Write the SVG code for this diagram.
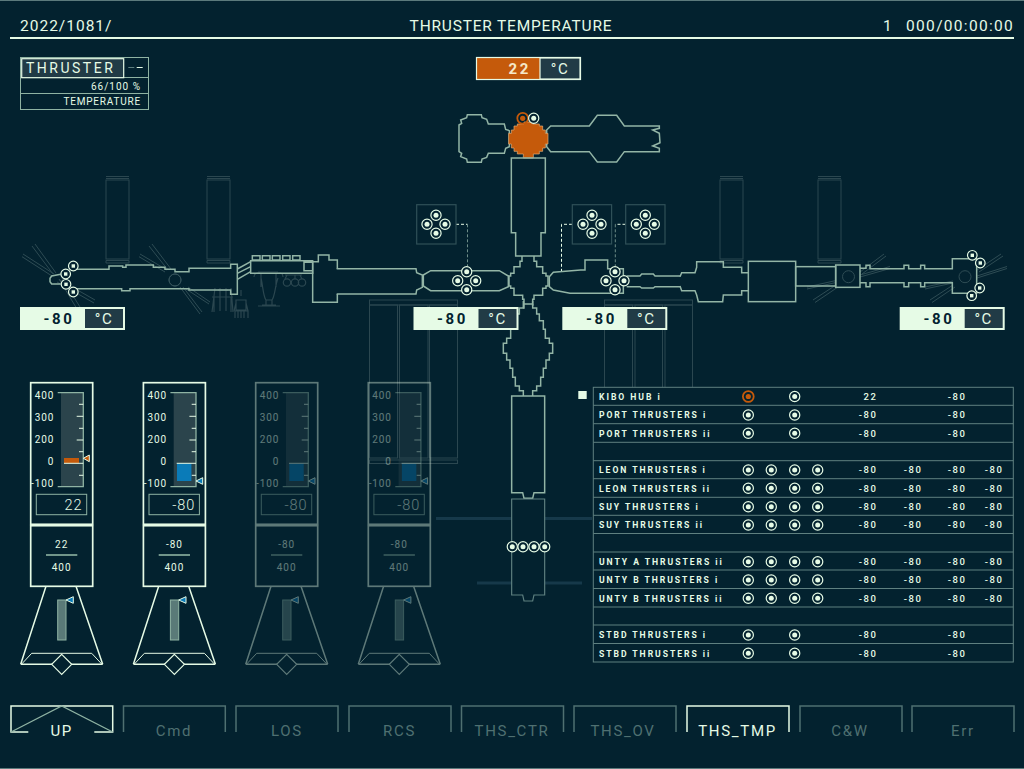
<svg xmlns="http://www.w3.org/2000/svg" width="1024" height="769" viewBox="0 0 1024 769">
<style>
text{font-family:Roboto,"Liberation Sans",sans-serif;fill:#e6fbe6}
.st{fill:none;stroke:#93b5a6;stroke-width:4.5;stroke-linejoin:miter}
.fa{fill:none;stroke:#2b4750;stroke-width:1}
.fa2{fill:none;stroke:#2e4c54;stroke-width:1}
.li{fill:none;stroke:#e6fbe6}
.gr{fill:none;stroke:#8fb3a3}
.dash{fill:none;stroke:#e6fbe6;stroke-dasharray:3 2}
.dashd{fill:none;stroke:#6d8d88;stroke-dasharray:3 2}
.lab{font-size:8.6px;font-weight:700;letter-spacing:1.95px}
.val{font-size:9.5px;font-weight:500;letter-spacing:1.6px;text-anchor:end}
.tab{font-size:15px;letter-spacing:1.7px;text-anchor:middle;fill:#4f7071}
.tl{fill:none;stroke:#4f7071;stroke-width:1.5}
.gl{font-size:10px;letter-spacing:.9px;text-anchor:end}
.bv{font-size:15px;font-weight:700;letter-spacing:2.6px;text-anchor:end;fill:#03222f}
.uc{font-size:15px;letter-spacing:1.5px;text-anchor:middle}
.big{font-size:14.5px;font-weight:300;letter-spacing:.9px;text-anchor:end}
.sm{font-size:10px;letter-spacing:1px;text-anchor:middle}
</style>
<defs>
<g id="c"><circle r="5.1" fill="#03222f" stroke="#e6fbe6" stroke-width="1.2"/><circle r="2.5" fill="#e6fbe6"/></g>
<g id="cs"><circle r="4.8" fill="#03222f" stroke="#e6fbe6" stroke-width="1.2"/><rect x="-1.7" y="-1.7" width="3.4" height="3.4" fill="#e6fbe6"/></g>
<g id="co"><circle r="5.4" fill="none" stroke="#c55a0b" stroke-width="1.8"/><circle r="2.6" fill="#c55a0b"/></g>
<g id="q"><use href="#c" x="0" y="-9"/><use href="#c" x="-9" y="0"/><use href="#c" x="9" y="0"/><use href="#c" x="0" y="9"/></g>
<g id="lb">
<rect x="0" y="0" width="105" height="23" fill="#e6fbe6"/>
<rect x="65" y="2" width="38" height="19" fill="#213b46"/>
<text class="uc" x="84" y="16.5">°C</text>
</g>
<g id="gauge">
<rect x="30.7" y="382.7" width="62" height="141.6" class="li" stroke-width="1.7"/>
<rect x="30.7" y="525.7" width="62" height="60.6" class="li" stroke-width="1.7"/>
<rect x="61" y="392.7" width="22.3" height="94" fill="#2b444c"/>
<path d="M57.7 392.7H83.3V486.7H57.7" class="gr" stroke-width="1.3"/>
<path d="M79 404.3H83.3M76.7 416.3H83.3M79 428.3H83.3M76.7 440H83.3M79 451.7H83.3M79 475.3H83.3" class="li" stroke-width="1"/>
<text class="gl" x="54.3" y="399.3">400</text><text class="gl" x="54.3" y="421.3">300</text><text class="gl" x="54.3" y="443.3">200</text><text class="gl" x="54.3" y="465.3">0</text><text class="gl" x="54.3" y="487.3">-100</text>
<rect x="36.3" y="494.3" width="50.4" height="20.4" class="gr" stroke-width="1"/>
<path d="M46 555H77.3" stroke="#8fb3a3" stroke-width="1.6"/>
<text class="sm" x="61.7" y="570.5">400</text>
<path d="M46 586.3L20.7 664.3M76 586.3L102.7 664.3M20.7 664.3H102.7" class="li" stroke-width="1.5"/>
<path d="M21.7 664L31.7 653.3H91.7L101.7 664" class="li" stroke-width="1"/>
<path d="M61.7 654.3L71.7 664.3L61.7 674.3L51.7 664.3Z" fill="#03222f" stroke="#e6fbe6" stroke-width="1.2"/>
<rect x="57.7" y="600" width="8.3" height="40" fill="#5a7a78" stroke="#8fb3a3" stroke-width="1"/>
<path d="M73.3 596.7V603.3L66 600Z" fill="#0a7bb8" stroke="#e6fbe6" stroke-width="1"/>
</g>
<g id="blue">
<rect x="64.3" y="463.3" width="14.4" height="17.7" fill="#0a7bb8"/>
<path d="M64 463.3H83.3" class="li" stroke-width="1"/>
<path d="M90 477.7V484.3L83.3 481Z" fill="#0a7bb8" stroke="#e6fbe6" stroke-width="1"/>
<text class="big" x="82.5" y="509.5">-80</text>
<text class="sm" x="61.7" y="548">-80</text>
</g>
</defs>
<rect width="1024" height="769" fill="#03222f"/>
<path d="M0 .5H1024M0 768.5H1024" stroke="#5c7a7c" stroke-width="1"/>

<g id="header">
<path d="M10 38H1014" stroke="#e6fbe6" stroke-width="2"/>
<text x="20" y="31" font-size="15.5" letter-spacing="1">2022/1081/</text>
<text x="511" y="31" font-size="15.5" letter-spacing=".8" text-anchor="middle">THRUSTER TEMPERATURE</text>
<text x="883" y="31" font-size="15.5">1</text>
<text x="1014" y="31" font-size="15.5" letter-spacing="1.3" text-anchor="end">000/00:00:00</text>
</g>

<g id="thruster-panel">
<rect x="20.5" y="57.5" width="128" height="52" class="gr" stroke-width="1"/>
<path d="M20.5 77.5H148.5M20.5 93.5H148.5" class="gr" stroke-width="1"/>
<rect x="21.7" y="58.7" width="102" height="19" fill="#213b46" stroke="#e6fbe6" stroke-width="1.2"/>
<text x="26" y="72.7" font-size="14" letter-spacing="2.5">THRUSTER</text>
<path d="M128.3 67.5H134.3" stroke="#5f8080" stroke-width="1"/><path d="M136.7 67.5H142.7" stroke="#e6fbe6" stroke-width="1"/>
<text x="141" y="89.5" font-size="10" letter-spacing="1" text-anchor="end">66/100 %</text>
<text x="141" y="105.3" font-size="10" letter-spacing=".8" text-anchor="end">TEMPERATURE</text>
</g>

<g id="faint-panels" class="fa">
<path d="M106 176.5H129M106 178.5H129M207 176.5H230M207 178.5H230M720 176.5H743M720 178.5H743M818 176.5H841M818 178.5H841"/>
<rect x="106" y="180" width="23" height="79"/><rect x="207" y="180" width="23" height="79"/>
<rect x="720" y="180" width="23" height="79"/><rect x="818" y="180" width="23" height="79"/>
<path d="M106 260.5H129V263H106ZM207 260.5H230V263H207ZM720 260.5H743V263H720ZM818 260.5H841V263H818Z"/>
<rect x="369.5" y="300" width="88" height="5"/>
<rect x="369.5" y="305" width="28" height="153"/><rect x="399.5" y="305" width="28.5" height="153"/><rect x="429.5" y="305" width="28" height="153"/>
<rect x="369.5" y="460" width="88" height="3.5"/>
<rect x="604.5" y="300" width="88" height="5"/>
<rect x="604.5" y="305" width="28" height="90"/><rect x="635" y="305" width="27.5" height="90"/><rect x="665" y="305" width="27.5" height="90"/>
<path d="M436 518.5H512M545 518.5H592M477 583H512M545 583H582" stroke="#16394a" stroke-width="3"/>
</g>

<g id="solar-wings" class="fa2">
<path d="M32 246L53 274M35 244L56 273M22 256.7L52 276M23 254L54 274M62 278L80 307M59 279L77 309M57 282L94 303M59 279.5L95 300"/>
<path d="M149 246L168 270M152 244L171 269M139 256.7L165 272M140 254L167 270M180 287L200 314M183 287L202 312M188 287L210 302M186 289L209 304"/>
<circle cx="175" cy="280" r="6"/>
<path d="M813 300L836 285M815 302.5L838 287M807 287L836 280.5M807 289L836 282.5M860 272L884 254M862 274L886 256M860 275L890 266.5M860 277L890 268.5"/>
<circle cx="848.5" cy="276.7" r="6"/>
<path d="M930 300L953 285M932 302.5L955 287M925 287L953 281M925 289L953 283M977 270L1001 254M979 272L1003 256M977 276L1007 266.5M977 278L1007 268.5"/>
<circle cx="965" cy="276.7" r="6"/>
</g>

<g id="robots" fill="none" stroke="#2b4750" stroke-width="1.2">
<path d="M215 288L212 312M220 288V311M226 288V311M231 288L233 312M212 297H233M218 290H228M214 297V312M231 297V312"/>
<path d="M241 290V296M236 300H246V310H236ZM236 303L234 311M246 303L248 311M235 318V311H248V318M238 318V311M241 318V311M244 318V311"/>
<path d="M258 272H278M254 277C254 273 258 272 261 274V287M283 277C283 273 280 272 276 274V287M261 278C263 286 263 296 266 300M278 278C275 286 275 296 272 300M262 305H276M258 306H280M266 300H272V305H266Z"/>
<circle cx="287" cy="282.5" r="3.7"/><circle cx="295" cy="282.5" r="3.7"/><circle cx="302" cy="282.5" r="3.7"/>
<path d="M285 279L287 275M295 279V275M302 279L300 275M285 275H302"/>
</g>

<g id="connectors">
<path class="dash" d="M456 224.3H467.5"/>
<path class="dashd" d="M467.5 224.3V267"/>
<path class="dash" d="M572 224.3H561.5V272"/>
<path class="dash" d="M625.5 224.3H615.3"/>
<path class="dashd" d="M615.3 224.3V267"/>
</g>

<g id="station" transform="translate(340 40) scale(.33333)">
<path id="kibo-left" class="st" d="M357 255L365 250L362 240L380 233L382 224H424L426 233L440 238L445 252H493L497 268L508 272V320L497 325L493 340H445L440 352L426 357L424 367H382L380 357L362 350L365 340L357 335Z"/>
<path id="kibo-right" class="st" d="M620 270L632 258H748L772 226H830L853 258H958V265L938 270L958 280L960 308L938 318L958 325V335H853L830 366H772L748 335H632L620 320Z"/>
<path id="kibo-hub" fill="#c55a0b" stroke="#e8b27a" stroke-width="2" d="M552 246H578V252H598V258H608V270H616V280H624V312H616V324H608V334H598V342H580V354H550V342H532V334H522V324H514V312H506V280H514V270H522V258H532V252H552Z"/>
<path id="node2" class="st" d="M514 354H616V578H603V648H527V578H514Z"/>
<path id="centre" class="st" d="M546 648V664H540V680H522V700H512V708H507V738H512V745H522V766H548V778H552V792H578V778H582V766H608V745H618V738H624V708H618V700H608V680H590V664H582V648"/>
<path id="leon" class="st" d="M-10 686H228L230 698L247 705V742L230 750L228 762H-10"/>
<path id="port" class="st" d="M250 705L272 692H478L505 708V740L478 752H272L250 738Z"/>
<path id="starboard" class="st" d="M628 710L640 697L722 690H735V660H803V686H850V760H690L640 750L628 740Z"/>
<path class="st" d="M860 708H900L905 702H940L945 708H1020M860 740H900L905 744H940L945 740H1020"/>
<path class="st" d="M552 792V806M578 792V798"/>
</g>

<g id="station-lower" transform="translate(240 300) scale(.33333)">
<path class="st" d="M850 3V24H838V42H830V62H818V88H812V115H800V130H790V160H800V180H810V205H818V232H826V258H838V272H850V288M878 3V24H890V42H898V62H910V88H916V115H928V130H938V160H928V180H918V205H910V232H902V258H890V272H878V288"/>
<path class="st" d="M815 288H914V578H882L878 595H852L848 578H815Z"/>
<path fill="none" stroke="#5f8080" stroke-width="3.5" d="M815 597H914V885H882L878 903H852L848 885H815Z"/>
</g>

<g id="station-left" transform="scale(.33333)">
<path class="st" d="M220 808H327V798H368V802H378V795H460V802H495V808H525V815H567V805H692V793H712V883H692V870H567V866H390V872H365V866H230M182 823L155 828L150 835V845L155 852L182 852"/>
<circle cx="525" cy="840" r="18" fill="none" stroke="#34525a" stroke-width="3"/>
<path class="st" d="M712 807L752 785M712 820L752 800M712 838L752 815"/>
<path class="st" d="M752 782H938V820H752ZM912 787H938V812H912ZM757 767H780V780H757ZM787 767H810V780H787ZM817 767H840V780H817ZM848 767H870V780H848ZM878 767H900V780H878Z"/>
<path class="st" d="M1012 882V907H938V785H955V765H987V780H1012V806"/>
</g>

<g id="station-right" transform="translate(680 160) scale(.33333)">
<path class="st" d="M0 350L5 338H45L50 322V305H130V322H185V338H205M0 378L5 392H45L50 405L55 425H128L130 405H185V392H205"/>
<rect class="st" x="205" y="304" width="142" height="121"/>
<rect class="st" x="347" y="320" width="120" height="58"/>
<rect class="st" x="467" y="315" width="73" height="67"/>
<path class="st" d="M540 325H558V316H570V326H672V316H686V326H722V316H734V326H817V296H890V400H817V368H734V380H722V368H686V380H672V368H570V380H558V368H540"/>
</g>

<g id="box-a"><rect x="416.7" y="204.7" width="39.3" height="39.3" fill="none" stroke="#2f5058" stroke-width="1.2"/><use href="#q" x="436" y="224.3"/></g>
<g id="box-b"><rect x="572.3" y="204.7" width="39.3" height="39.3" fill="none" stroke="#2f5058" stroke-width="1.2"/><use href="#q" x="592" y="224.3"/></g>
<g id="box-c"><rect x="625.7" y="204.7" width="39.3" height="39.3" fill="none" stroke="#2f5058" stroke-width="1.2"/><use href="#q" x="645.3" y="224.3"/></g>
<g id="cluster-port"><use href="#q" x="466.7" y="280.7"/></g>
<g id="cluster-stbd"><use href="#q" x="615" y="280.7"/></g>
<g id="cluster-hub"><use href="#co" x="522.7" y="118.3"/><use href="#c" x="533.7" y="118.3"/></g>
<g id="cluster-node"><use href="#c" x="512.3" y="546.7"/><use href="#c" x="523" y="546.7"/><use href="#c" x="534" y="546.7"/><use href="#c" x="544.7" y="546.7"/></g>
<g id="cluster-left"><use href="#cs" x="73.3" y="266"/><use href="#cs" x="65.7" y="274"/><use href="#cs" x="66" y="284.3"/><use href="#cs" x="73.3" y="292"/></g>
<g id="cluster-right"><use href="#cs" x="972.3" y="255.3"/><use href="#cs" x="980.3" y="263"/><use href="#cs" x="979.7" y="288"/><use href="#cs" x="971.7" y="295.7"/></g>

<g id="label-top">
<rect x="476.5" y="57.5" width="104" height="22" fill="#c55a0b" stroke="#e6fbe6" stroke-width="1.2"/>
<rect x="540" y="58" width="40" height="21" fill="#213b46" stroke="#e6fbe6" stroke-width="1.2"/>
<text class="bv" x="531" y="73.5" style="fill:#f5e8c8">22</text>
<text class="uc" x="560" y="73.5">°C</text>
</g>
<g id="label-left"><use href="#lb" x="20" y="307"/><text class="bv" x="74.5" y="323.5">-80</text></g>
<g id="label-port"><use href="#lb" x="413.5" y="307"/><text class="bv" x="468" y="323.5">-80</text></g>
<g id="label-stbd"><use href="#lb" x="562.3" y="307"/><text class="bv" x="617" y="323.5">-80</text></g>
<g id="label-right"><use href="#lb" x="899.7" y="307"/><text class="bv" x="954.5" y="323.5">-80</text></g>

<g id="gauge-1"><use href="#gauge"/>
<rect x="64" y="458" width="15" height="5.3" fill="#c55a0b"/>
<path d="M64 463.3H83.3" class="li" stroke-width="1"/>
<path d="M89.3 455V461.7L83.3 458.3Z" fill="#c55a0b" stroke="#e6fbe6" stroke-width="1"/>
<text class="big" x="82.5" y="509.5">22</text>
<text class="sm" x="61.7" y="548">22</text>
</g>
<g id="gauge-2" transform="translate(112.7 0)"><use href="#gauge"/><use href="#blue"/></g>
<g id="gauge-3" transform="translate(225 0)" opacity=".4"><use href="#gauge"/><use href="#blue"/></g>
<g id="gauge-4" transform="translate(337.6 0)" opacity=".4"><use href="#gauge"/><use href="#blue"/></g>

<g id="table">
<rect x="578.3" y="391" width="8.4" height="8" fill="#e6fbe6"/>
<rect x="593.3" y="387.3" width="420" height="274.7" fill="#03222f" stroke="#5f8080" stroke-width="1"/>
<path d="M593.3 405.3H1013.3M593.3 423.7H1013.3M593.3 442.3H1013.3M593.3 460.7H1013.3M593.3 478.7H1013.3M593.3 497.3H1013.3M593.3 515.3H1013.3M593.3 533.5H1013.3M593.3 552H1013.3M593.3 570H1013.3M593.3 588.5H1013.3M593.3 607H1013.3M593.3 625H1013.3M593.3 643.5H1013.3" stroke="#5f8080" stroke-width="1"/>
<g id="r0"><text class="lab" x="599" y="400">KIBO HUB i</text><use href="#co" x="748.3" y="396.5"/><use href="#c" x="794.7" y="396.5"/><text class="val" x="877.5" y="400">22</text><text class="val" x="966.5" y="400">-80</text></g>
<g id="r1"><text class="lab" x="599" y="418.3">PORT THRUSTERS i</text><use href="#c" x="748.3" y="415"/><use href="#c" x="794.7" y="415"/><text class="val" x="877.5" y="418.3">-80</text><text class="val" x="966.5" y="418.3">-80</text></g>
<g id="r2"><text class="lab" x="599" y="436.5">PORT THRUSTERS ii</text><use href="#c" x="748.3" y="433.3"/><use href="#c" x="794.7" y="433.3"/><text class="val" x="877.5" y="436.5">-80</text><text class="val" x="966.5" y="436.5">-80</text></g>
<g id="r4"><text class="lab" x="599" y="473.3">LEON THRUSTERS i</text><use href="#c" x="748.3" y="470"/><use href="#c" x="771.3" y="470"/><use href="#c" x="794.7" y="470"/><use href="#c" x="817.7" y="470"/><text class="val" x="877.5" y="473.3">-80</text><text class="val" x="922.5" y="473.3">-80</text><text class="val" x="966.5" y="473.3">-80</text><text class="val" x="1003.5" y="473.3">-80</text></g>
<g id="r5"><text class="lab" x="599" y="491.5">LEON THRUSTERS ii</text><use href="#c" x="748.3" y="488.3"/><use href="#c" x="771.3" y="488.3"/><use href="#c" x="794.7" y="488.3"/><use href="#c" x="817.7" y="488.3"/><text class="val" x="877.5" y="491.5">-80</text><text class="val" x="922.5" y="491.5">-80</text><text class="val" x="966.5" y="491.5">-80</text><text class="val" x="1003.5" y="491.5">-80</text></g>
<g id="r6"><text class="lab" x="599" y="510">SUY THRUSTERS i</text><use href="#c" x="748.3" y="506.7"/><use href="#c" x="771.3" y="506.7"/><use href="#c" x="794.7" y="506.7"/><use href="#c" x="817.7" y="506.7"/><text class="val" x="877.5" y="510">-80</text><text class="val" x="922.5" y="510">-80</text><text class="val" x="966.5" y="510">-80</text><text class="val" x="1003.5" y="510">-80</text></g>
<g id="r7"><text class="lab" x="599" y="528">SUY THRUSTERS ii</text><use href="#c" x="748.3" y="525"/><use href="#c" x="771.3" y="525"/><use href="#c" x="794.7" y="525"/><use href="#c" x="817.7" y="525"/><text class="val" x="877.5" y="528">-80</text><text class="val" x="922.5" y="528">-80</text><text class="val" x="966.5" y="528">-80</text><text class="val" x="1003.5" y="528">-80</text></g>
<g id="r9"><text class="lab" x="599" y="565">UNTY A THRUSTERS ii</text><use href="#c" x="748.3" y="561.7"/><use href="#c" x="771.3" y="561.7"/><use href="#c" x="794.7" y="561.7"/><use href="#c" x="817.7" y="561.7"/><text class="val" x="877.5" y="565">-80</text><text class="val" x="922.5" y="565">-80</text><text class="val" x="966.5" y="565">-80</text><text class="val" x="1003.5" y="565">-80</text></g>
<g id="r10"><text class="lab" x="599" y="583.3">UNTY B THRUSTERS i</text><use href="#c" x="748.3" y="580"/><use href="#c" x="771.3" y="580"/><use href="#c" x="794.7" y="580"/><use href="#c" x="817.7" y="580"/><text class="val" x="877.5" y="583.3">-80</text><text class="val" x="922.5" y="583.3">-80</text><text class="val" x="966.5" y="583.3">-80</text><text class="val" x="1003.5" y="583.3">-80</text></g>
<g id="r11"><text class="lab" x="599" y="601.5">UNTY B THRUSTERS ii</text><use href="#c" x="748.3" y="598.3"/><use href="#c" x="771.3" y="598.3"/><use href="#c" x="794.7" y="598.3"/><use href="#c" x="817.7" y="598.3"/><text class="val" x="877.5" y="601.5">-80</text><text class="val" x="922.5" y="601.5">-80</text><text class="val" x="966.5" y="601.5">-80</text><text class="val" x="1003.5" y="601.5">-80</text></g>
<g id="r13"><text class="lab" x="599" y="638.3">STBD THRUSTERS i</text><use href="#c" x="748.3" y="635"/><use href="#c" x="794.7" y="635"/><text class="val" x="877.5" y="638.3">-80</text><text class="val" x="966.5" y="638.3">-80</text></g>
<g id="r14"><text class="lab" x="599" y="656.5">STBD THRUSTERS ii</text><use href="#c" x="748.3" y="653.3"/><use href="#c" x="794.7" y="653.3"/><text class="val" x="877.5" y="656.5">-80</text><text class="val" x="966.5" y="656.5">-80</text></g>
</g>

<g id="tabs">
<g id="tab-up"><path d="M28.3 732H11V706H112.7V732H94.3" fill="none" stroke="#e6fbe6" stroke-width="1.5"/><path d="M11 732L61.7 706L112.7 732" fill="none" stroke="#8fb3a3" stroke-width="1.3"/><text class="tab" x="61.7" y="735.7" style="fill:#e6fbe6">UP</text></g>
<g id="tab-cmd"><path class="tl" d="M123.5 732V706H225.3V732"/><text class="tab" x="174" y="735.7">Cmd</text></g>
<g id="tab-los"><path class="tl" d="M236 732V706H338V732"/><text class="tab" x="287" y="735.7">LOS</text></g>
<g id="tab-rcs"><path class="tl" d="M349 732V706H451V732"/><text class="tab" x="399.5" y="735.7">RCS</text></g>
<g id="tab-ctr"><path class="tl" d="M461.5 732V706H563.5V732"/><text class="tab" x="512" y="735.7">THS_CTR</text></g>
<g id="tab-ov"><path class="tl" d="M574 732V706H676V732"/><text class="tab" x="623" y="735.7">THS_OV</text></g>
<g id="tab-tmp"><path d="M687 732V706H789V732" fill="none" stroke="#e6fbe6" stroke-width="1.5"/><text class="tab" x="737.5" y="735.7" style="fill:#e6fbe6">THS_TMP</text></g>
<g id="tab-cw"><path class="tl" d="M800 732V706H902V732"/><text class="tab" x="850" y="735.7">C&amp;W</text></g>
<g id="tab-err"><path class="tl" d="M912 732V706H1014V732"/><text class="tab" x="963" y="735.7">Err</text></g>
</g>
</svg>
